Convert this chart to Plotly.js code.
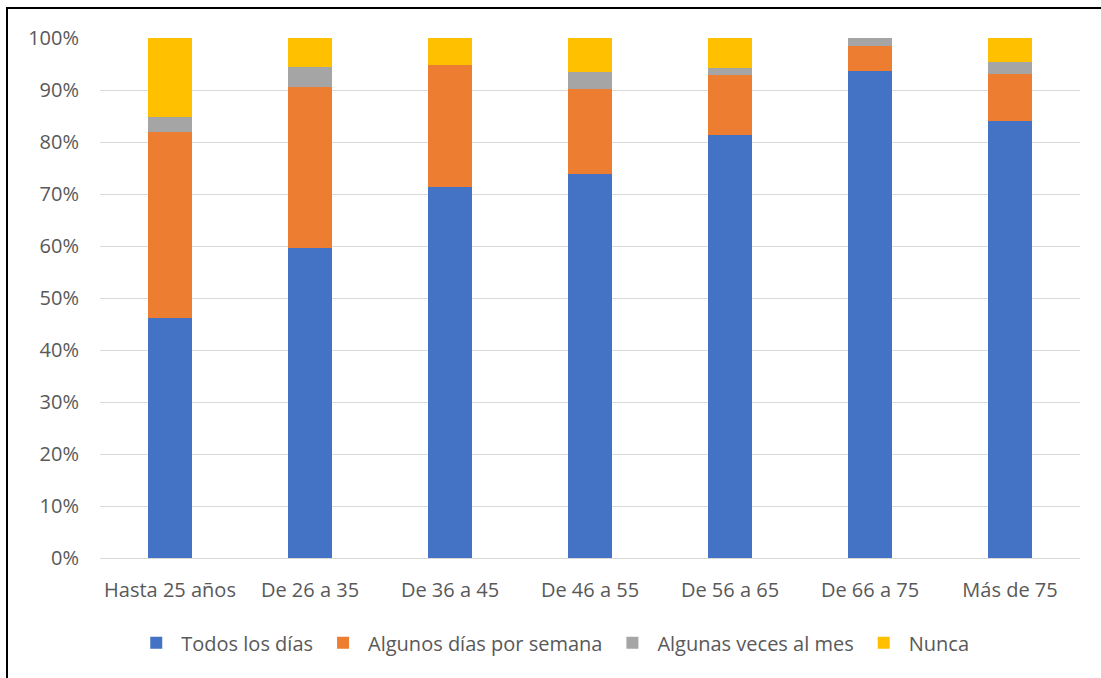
<!DOCTYPE html>
<html>
<head>
<meta charset="utf-8">
<script src="https://cdn.plot.ly/plotly-3.0.1.min.js"></script>
<style>
html,body{margin:0;padding:0;background:#fff;}
#wrap{position:relative;width:1101px;height:678px;overflow:hidden;}
#frame{position:absolute;left:6px;top:7px;width:1200px;height:800px;border-left:2px solid #000;border-top:2px solid #000;pointer-events:none;z-index:5;}
#chart{position:absolute;left:0;top:0;width:1101px;height:678px;}
</style>
</head>
<body>
<div id="wrap">
<div id="chart"></div>
<div id="frame"></div>
</div>
<script>
const categories = ["Hasta 25 años","De 26 a 35","De 36 a 45","De 46 a 55","De 56 a 65","De 66 a 75","Más de 75"];
const todosLosDias = [46.2, 59.7, 71.3, 73.8, 81.4, 93.6, 84.1];
const algunosDiasPorSemana = [35.8, 30.9, 23.5, 16.4, 11.5, 4.9, 9.0];
const algunasVecesAlMes = [2.9, 3.9, 0.0, 3.2, 1.4, 1.5, 2.3];
const nunca = [15.1, 5.5, 5.2, 6.6, 5.7, 0.0, 4.6];
const seriesNames = ["Todos los días","Algunos días por semana","Algunas veces al mes","Nunca"];
const seriesColors = ["#4472C4","#ED7D31","#A5A5A5","#FFC000"];
const seriesData = [todosLosDias, algunosDiasPorSemana, algunasVecesAlMes, nunca];

const traces = seriesData.map((vals, i) => ({
  type: 'bar',
  name: seriesNames[i],
  x: categories,
  y: vals.map(v => v / 100),
  marker: {color: seriesColors[i], line: {width: 0}},
  hoverinfo: 'x+y+name'
}));

const font = {family: '"Open Sans", "Noto Sans", sans-serif', size: 20, color: '#595959'};

const layout = {
  width: 1101,
  height: 678,
  barmode: 'stack',
  bargap: 0.686,
  margin: {l: 100, r: 21, t: 37.5, b: 120},
  paper_bgcolor: '#fff',
  plot_bgcolor: '#fff',
  font: font,
  showlegend: true,
  legend: {
    orientation: 'h',
    x: 0.462, xanchor: 'center',
    y: -0.163, yanchor: 'middle',
    font: font,
    traceorder: 'normal',
    itemwidth: 40,
    itemclick: false
  },
  xaxis: {
    type: 'category',
    showgrid: false,
    showline: false,
    zeroline: false,
    ticks: '',
    tickfont: font,
    ticklabelstandoff: 18
  },
  yaxis: {
    range: [0, 1],
    dtick: 0.1,
    tick0: 0,
    tickformat: '.0%',
    showgrid: true,
    gridcolor: '#D9D9D9',
    gridwidth: 1,
    zeroline: true,
    zerolinecolor: '#D9D9D9',
    zerolinewidth: 1,
    showline: false,
    ticks: '',
    tickfont: font,
    ticklabelstandoff: 20
  }
};

Plotly.newPlot('chart', traces, layout, {displayModeBar: false, staticPlot: true});
</script>
</body>
</html>
